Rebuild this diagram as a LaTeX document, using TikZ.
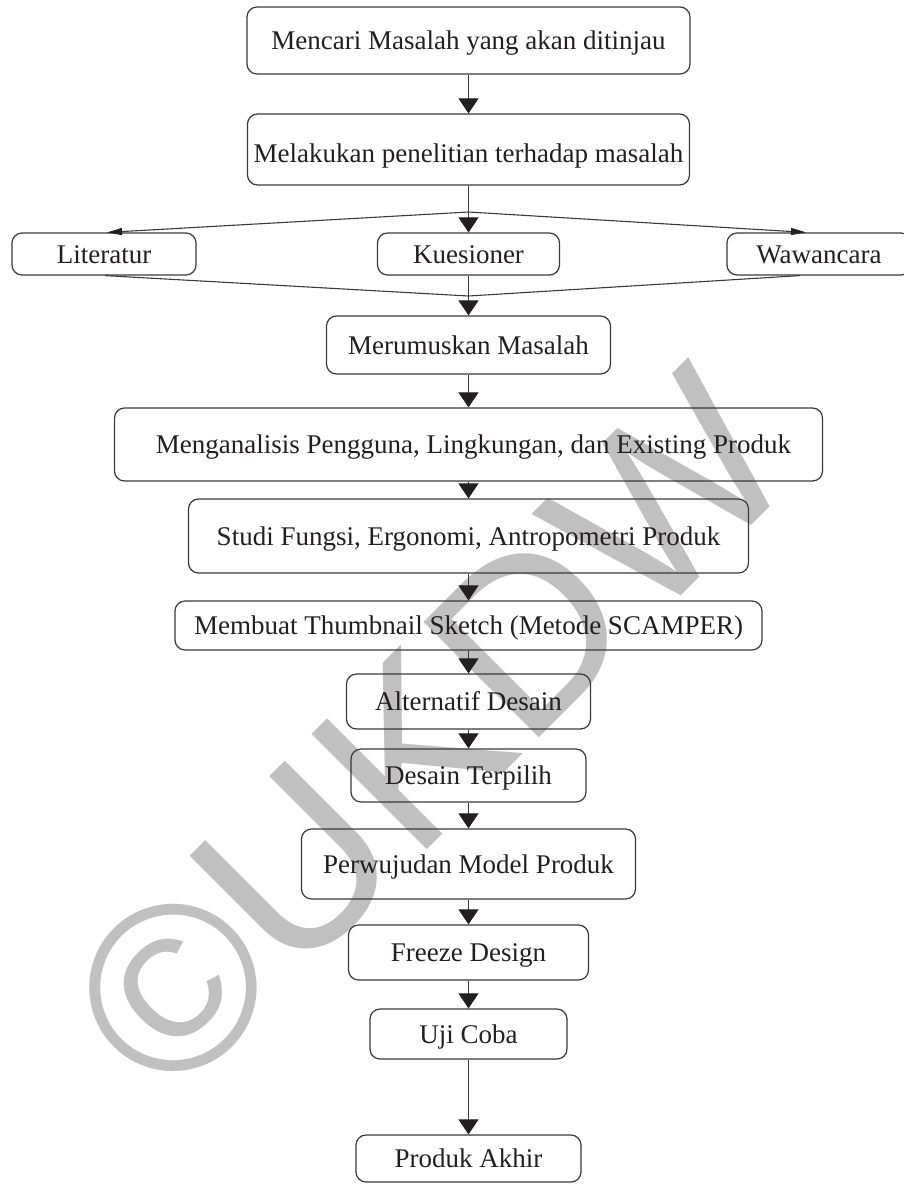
\documentclass[tikz,border=0pt]{standalone}
\usepackage{fontspec}
\setmainfont{Liberation Serif}
\newfontfamily\wmfamily{Liberation Sans}
\usetikzlibrary{arrows.meta}
\definecolor{lc}{HTML}{3A3A3A}
\definecolor{tc}{HTML}{231F20}
\definecolor{wmc}{HTML}{C0C0C0}
\begin{document}
\begin{tikzpicture}[x=1pt,y=-1pt,
  box/.style={draw=lc, line width=1.2pt, rounded corners=10pt, inner sep=0pt,
    text=tc, font=\fontsize{27}{32}\selectfont, text height=18pt, text depth=0pt},
  conn/.style={draw=lc, line width=1.1pt},
  arr/.style={conn, -{Triangle[length=15pt,width=20pt,color=tc]}},
  sarr/.style={conn, -{Triangle[length=15pt,width=7pt,color=tc]}},
  wmark/.style={text=wmc, inner sep=0pt, rotate=45,
    font=\wmfamily\fontsize{237}{237}\selectfont, text height=169.7pt, text depth=0pt}]
\useasboundingbox (0,0) rectangle (903,1184);
\fill[white] (0,0) rectangle (903,1184);
% watermark
\node[wmark] (wm) at (427,730) {©UKDW};
% nodes
\node[box, minimum width=443pt, minimum height=67pt] (n1) at (468.5,40.5) {Mencari Masalah yang akan ditinjau};
\node[box, minimum width=442pt, minimum height=71pt] (n2) at (468.5,149.5) {\raisebox{-4pt}{Melakukan penelitian terhadap masalah}};
\node[box, minimum width=184pt, minimum height=42pt] (lit) at (104,254) {Literatur};
\node[box, minimum width=182pt, minimum height=42pt] (kue) at (468.5,254) {Kuesioner};
\node[box, minimum width=184pt, minimum height=42pt] (waw) at (819,254) {Wawancara};
\node[box, minimum width=284pt, minimum height=58pt] (mer) at (468.5,345) {Merumuskan Masalah};
\node[box, minimum width=708pt, minimum height=73pt] (men) at (468.5,444.5) {\hspace*{10pt}Menganalisis Pengguna, Lingkungan, dan Existing Produk};
\node[box, minimum width=560pt, minimum height=74pt] (stu) at (468.5,536) {Studi Fungsi, Ergonomi, Antropometri Produk};
\node[box, minimum width=587pt, minimum height=49pt] (mem) at (468.5,625.5) {Membuat Thumbnail Sketch (Metode SCAMPER)};
\node[box, minimum width=244pt, minimum height=55pt] (alt) at (468.5,701.5) {Alternatif Desain};
\node[box, minimum width=235pt, minimum height=53pt] (des) at (468.5,775.5) {Desain Terpilih};
\node[box, minimum width=334pt, minimum height=70pt] (per) at (468.5,864) {Perwujudan Model Produk};
\node[box, minimum width=240pt, minimum height=55pt] (fre) at (468.5,952.5) {Freeze Design};
\node[box, minimum width=197pt, minimum height=50pt] (uji) at (468.5,1034) {Uji Coba};
\node[box, minimum width=225pt, minimum height=47pt] (pro) at (468.5,1158.5) {Produk Akhir};
% branch points
\coordinate (split) at (468.5,212);
\coordinate (merge) at (468.5,296);
% connectors
\draw[arr] (n1.south) -- (n2.north);
\draw[conn] (n2.south) -- (split);
\draw[arr] (split) -- (kue.north);
\draw[sarr] (split) -- ([xshift=3pt]lit.north);
\draw[sarr] (split) -- ([xshift=-13pt]waw.north);
\draw[conn] ([xshift=1pt]lit.south) -- (merge);
\draw[conn] ([xshift=-19pt]waw.south) -- (merge);
\draw[arr] (kue.south) -- (mer.north);
\draw[arr] (mer.south) -- (men.north);
\draw[arr] (men.south) -- (stu.north);
\draw[arr] (stu.south) -- (mem.north);
\draw[arr] (mem.south) -- (alt.north);
\draw[arr] (alt.south) -- (des.north);
\draw[arr] (des.south) -- (per.north);
\draw[arr] (per.south) -- (fre.north);
\draw[arr] (fre.south) -- (uji.north);
\draw[arr] (uji.south) -- (pro.north);
\end{tikzpicture}
\end{document}
